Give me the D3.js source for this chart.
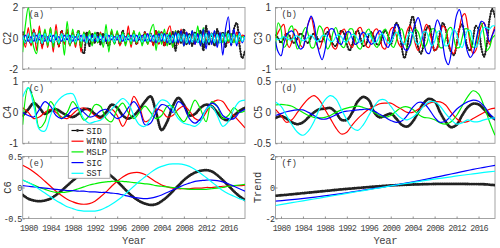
<!DOCTYPE html>
<html><head><meta charset="utf-8">
<script src="https://cdn.jsdelivr.net/npm/d3@7"></script>
<style>body{margin:0;background:#fff}svg{display:block}</style>
</head><body><svg id="c" width="500" height="248"></svg>
<script>
// ---------------- DATA ----------------
const seriesNames = ["SID","WIND","MSLP","SIC","SST"];
const seriesColors = ["#000000","#ff0000","#00f000","#0000ff","#00ffff"];
const yearTicks = [1980,1984,1988,1992,1996,2000,2004,2008,2012,2016];
const startYear = 1979;

// C2 (half-year samples 1979.0 ... 2019.0)
const c2Step = 0.5;
const c2SID  = [0.4,-0.3,0.2,-0.4,0.5,-0.3,0.4,-0.5,0.3,-0.2,0.3,-0.4,0.2,-0.5,0.5,-0.3,0.4,-0.4,0.3,-0.3,0.5,-0.6,-1.0,0.4,-0.5,0.3,-0.3,0.4,-0.4,0.3,-0.2,-0.5,0.4,-0.3,0.3,-0.4,0.5,-0.3,0.3,-0.2,0.3,-0.4,0.2,-0.3,0.4,-0.3,0.3,-0.4,0.5,-0.3,0.4,-0.5,0.3,-0.4,0.4,-0.8,0.5,-0.3,0.6,-0.4,0.3,-0.5,0.4,-0.3,0.5,-0.8,0.8,-0.4,0.3,-0.5,0.6,-0.3,0.4,-0.6,0.5,-0.4,0.6,1.0,-0.4,-1.3,-0.8];
const c2WIND = [0.3,-0.6,0.7,-0.5,0.6,-0.8,0.8,-0.7,0.5,-0.6,0.7,-0.9,0.9,-0.6,0.5,-0.4,0.6,-0.5,0.4,-0.6,0.5,-0.9,0.4,-0.3,0.5,-0.4,0.3,-0.3,0.4,-0.3,0.3,-0.4,0.5,-0.3,0.4,-0.5,0.3,-0.4,0.8,-0.6,0.5,-0.4,0.3,-0.3,0.4,-0.4,0.3,-0.5,0.5,-0.4,0.4,-0.5,0.4,0.8,-0.6,0.5,-0.4,0.6,-0.5,0.4,-0.3,0.3,-0.4,0.3,-0.3,0.4,-0.2,0.3,-0.3,0.2,-0.3,0.3,-0.2,0.2,-0.3,0.3,-0.2,0.4,-0.3,0.2,0.1];
const c2MSLP = [-0.9,0.9,2.0,0.6,-0.6,-1.0,0.5,-0.3,0.6,-0.5,0.7,-0.6,0.5,-0.4,0.3,-1.1,1.1,-0.5,0.6,-0.4,0.5,-0.6,0.4,-0.3,0.5,-0.5,0.4,-0.3,0.3,-0.6,0.9,-0.9,0.6,-0.4,0.5,-0.3,0.4,-0.5,0.3,-0.4,0.5,-0.3,0.4,-0.5,0.3,-0.4,0.5,0.9,-0.8,0.5,-0.4,0.6,-0.5,0.4,-0.6,0.5,-0.3,0.4,-0.5,0.3,-0.4,0.5,-0.3,0.8,-0.5,0.7,-0.4,0.3,-0.3,0.4,-0.4,0.3,-0.3,0.4,-0.2,0.3,-0.3,0.2,-0.2,0.1,0.0];
const c2SIC  = [-0.1,0.2,-0.2,0.1,-0.2,0.2,-0.1,0.2,-0.2,0.1,-0.2,0.2,-0.1,0.1,-0.2,0.2,-0.1,0.2,-0.2,0.1,-0.1,0.2,-0.2,0.1,-0.1,0.2,-0.2,0.1,-0.1,0.1,-0.2,0.2,-0.1,0.1,-0.1,0.2,-0.2,0.1,-0.1,0.2,-0.2,0.2,-0.1,0.2,-0.2,0.3,-0.2,0.2,-0.3,0.3,-0.2,0.3,-0.3,0.2,-0.3,0.4,-0.3,0.5,-0.5,0.4,-0.4,0.5,-0.4,0.3,-0.5,0.6,-0.7,0.5,-0.4,0.5,-0.6,0.4,-1.1,0.6,1.4,-0.5,0.6,-0.5,0.4,-0.3,0.2];
const c2SST  = [0.2,-0.3,0.3,-0.3,0.35,-0.3,0.3,-0.35,0.3,-0.25,0.3,-0.3,0.25,-0.3,0.3,-0.2,0.25,-0.3,0.2,-0.25,0.3,-0.2,0.25,-0.3,0.2,-0.2,0.25,-0.2,0.2,-0.25,0.3,-0.2,0.2,-0.25,0.2,-0.2,0.25,-0.2,0.2,-0.2,0.25,-0.2,0.2,-0.25,0.2,-0.2,0.25,-0.2,0.2,-0.25,0.3,-0.2,0.25,-0.3,0.2,-0.25,0.3,-0.2,0.25,-0.3,0.2,-0.25,0.3,-0.3,0.25,-0.3,0.3,-0.25,0.3,-0.3,0.25,-0.3,0.3,-0.25,0.3,-0.3,0.25,-0.3,0.3,-0.2,0.1];

// C3 (half-year samples)
const c3Step = 0.5;
const c3SID  = [0.1,0.0,-0.15,0.0,0.15,0.1,-0.1,-0.15,0.0,0.15,0.1,-0.1,-0.15,0.05,0.15,0.05,-0.1,-0.1,0.1,0.2,0.05,-0.2,-0.25,0.0,0.25,0.15,-0.2,-0.4,-0.2,0.15,0.25,0.0,-0.25,-0.2,0.1,0.2,0.0,-0.2,-0.2,0.1,0.25,0.1,-0.2,0.1,0.5,0.35,-0.3,-0.65,-0.3,0.4,0.72,0.3,-0.3,-0.5,-0.2,0.3,0.4,0.0,-0.4,-0.3,0.2,0.5,0.3,-0.2,-0.45,-0.55,-0.2,0.3,0.45,0.1,-0.3,-0.4,0.0,0.4,0.3,-0.3,-0.6,-0.2,0.6,0.95,0.7];
const c3WIND = [0.0,0.2,0.35,0.45,-0.1,-0.3,-0.1,0.3,0.2,-0.2,-0.3,0.1,0.5,0.67,0.3,-0.2,-0.35,-0.1,0.3,0.35,0.0,-0.3,-0.35,-0.1,0.2,0.3,0.1,-0.2,-0.3,0.0,0.3,0.35,0.1,-0.25,-0.3,-0.05,0.25,0.3,0.05,-0.3,-0.35,0.0,0.3,0.35,0.1,-0.2,-0.3,-0.1,0.25,0.4,0.2,-0.2,-0.4,-0.2,0.2,0.45,0.3,-0.1,-0.4,-0.3,0.1,0.4,0.3,-0.1,-0.4,-0.5,-0.2,0.3,0.7,0.8,0.4,-0.2,-0.5,-0.4,0.0,0.4,0.5,0.2,-0.2,0.1,0.4];
const c3MSLP = [-0.4,0.5,0.3,-0.3,-0.2,0.3,0.4,0.0,-0.35,-0.2,0.2,0.35,0.1,-0.3,-0.3,0.1,0.4,0.3,-0.1,-0.35,-0.2,0.2,0.35,0.1,-0.25,-0.3,0.0,0.3,0.3,0.0,-0.3,-0.35,-0.1,0.2,0.3,0.1,-0.2,-0.3,-0.1,0.2,0.3,0.1,-0.2,-0.3,-0.1,0.25,0.3,0.0,-0.3,-0.25,0.1,0.3,0.2,-0.1,-0.3,-0.2,0.1,0.3,0.3,0.0,-0.3,-0.3,0.0,0.3,0.35,0.0,-0.3,-0.3,0.0,0.3,0.3,0.0,-0.3,-0.2,0.3,0.5,0.1,-0.4,-0.3,0.0,0.1];
const c3SIC  = [-0.1,-0.45,-0.57,-0.2,0.1,0.2,0.24,0.1,-0.2,-0.35,-0.3,0.1,0.5,0.72,0.5,-0.1,-0.5,-0.7,-0.4,0.1,0.3,0.3,0.1,-0.15,-0.2,0.0,0.2,0.2,0.0,-0.2,-0.15,0.1,0.2,0.1,-0.1,-0.2,-0.1,0.15,0.25,0.1,-0.2,-0.3,-0.1,0.3,0.45,0.3,-0.1,-0.35,-0.4,-0.2,0.2,0.5,0.67,0.4,-0.1,-0.45,-0.5,-0.2,0.3,0.6,0.4,-0.2,-0.7,-0.86,-0.5,0.2,0.75,0.93,0.6,0.0,-0.45,-0.62,-0.5,-0.1,0.3,0.55,0.5,0.2,-0.1,0.1,0.3];
const c3SST  = [0.0,-0.05,0.0,0.05,0.0,-0.05,-0.05,0.05,0.08,0.0,-0.08,-0.05,0.05,0.1,0.0,-0.1,-0.05,0.08,0.1,0.0,-0.1,-0.1,0.05,0.12,0.05,-0.1,-0.12,0.0,0.12,0.1,-0.05,-0.15,-0.05,0.1,0.15,0.0,-0.15,-0.1,0.1,0.15,0.0,-0.15,-0.15,0.05,0.2,0.1,-0.1,-0.2,0.0,0.2,0.15,-0.1,-0.2,-0.05,0.2,0.2,-0.05,-0.25,-0.1,0.2,0.25,0.0,-0.25,-0.2,0.1,0.3,0.15,-0.2,-0.3,-0.05,0.25,0.25,-0.1,-0.3,-0.15,0.2,0.35,0.35,0.3,0.4,0.4];

// C4 (yearly samples 1979 ... 2019)
const c4Step = 1;
const c4SID  = [-0.1,0.1,0.3,0.15,-0.05,0.05,0.1,0.0,-0.1,-0.15,-0.05,0.1,0.1,-0.05,-0.15,0.0,0.25,0.15,-0.1,-0.2,-0.1,0.1,0.35,0.52,0.0,-0.57,-0.3,0.2,0.47,0.25,-0.1,-0.05,0.15,0.25,0.2,0.0,-0.2,-0.25,-0.1,0.05,0.15];
const c4WIND = [0.15,0.0,-0.2,-0.15,0.0,0.1,0.0,-0.15,-0.2,-0.05,0.1,0.15,0.05,-0.1,-0.2,-0.1,0.1,-0.1,-0.45,-0.1,0.52,0.2,-0.3,-0.2,0.1,0.05,-0.15,-0.1,0.1,0.2,0.05,-0.2,-0.25,0.0,0.3,0.4,0.35,0.1,-0.1,-0.3,-0.5];
const c4MSLP = [-0.4,0.8,0.4,-0.5,-0.3,0.35,0.1,-0.2,0.0,0.35,0.1,-0.25,-0.1,0.25,0.2,-0.2,-0.3,0.1,0.3,0.0,-0.2,0.0,0.2,0.0,-0.2,-0.1,0.2,0.2,-0.1,-0.3,0.0,0.4,0.1,-0.3,0.35,0.2,-0.2,-0.1,0.15,0.0,0.05];
const c4SIC  = [0.0,-0.1,-0.15,0.1,0.35,0.2,-0.1,-0.2,-0.1,0.1,0.15,0.0,-0.15,-0.1,0.05,0.1,-0.05,-0.2,-0.1,0.15,0.35,0.1,-0.4,-0.35,0.0,0.25,0.2,0.0,0.35,0.2,-0.2,-0.35,-0.2,0.1,0.3,0.2,-0.1,-0.2,-0.2,0.0,0.1];
const c4SST  = [0.5,0.8,0.2,-0.55,-0.6,-0.1,0.3,0.5,0.6,0.6,0.2,-0.2,-0.35,-0.3,-0.25,-0.1,0.1,0.3,0.45,0.3,-0.1,-0.4,-0.45,-0.2,0.2,0.4,0.35,0.1,-0.2,-0.35,-0.4,-0.45,-0.3,0.1,0.2,-0.1,-0.45,-0.3,0.1,0.35,0.4];

// C5 (yearly samples)
const c5Step = 1;
const c5SID  = [-0.09,-0.06,-0.1,-0.16,-0.19,-0.16,-0.08,0.0,0.05,0.06,0.07,0.0,-0.12,-0.12,0.0,0.18,0.25,0.2,0.0,-0.08,-0.05,-0.02,-0.1,-0.2,-0.23,-0.15,0.0,0.15,0.22,0.18,0.0,-0.15,-0.24,-0.2,-0.05,0.08,0.14,0.13,0.05,-0.05,-0.11];
const c5WIND = [0.05,-0.05,-0.16,-0.12,0.0,0.12,0.22,0.27,0.2,0.05,-0.1,-0.25,-0.35,-0.32,-0.2,-0.1,-0.02,0.05,0.1,0.14,0.15,0.15,0.1,0.05,0.0,0.0,0.05,0.1,0.15,0.17,0.17,0.12,0.0,-0.1,-0.16,-0.15,-0.1,-0.05,0.0,0.05,0.07];
const c5MSLP = [0.12,0.13,0.12,0.1,0.05,0.0,-0.05,-0.08,-0.09,-0.08,-0.05,0.0,0.04,0.07,0.09,0.1,0.08,0.05,0.0,-0.05,-0.08,-0.05,0.02,0.08,0.09,0.05,-0.03,-0.08,-0.09,-0.12,-0.17,-0.19,-0.15,-0.05,0.1,0.25,0.35,0.3,0.1,-0.15,-0.37];
const c5SIC  = [-0.05,-0.02,0.01,0.03,0.04,0.04,0.0,-0.05,-0.1,-0.11,-0.08,-0.04,0.0,0.02,0.03,0.04,0.05,0.05,0.02,-0.03,-0.08,-0.13,-0.16,-0.14,-0.05,0.08,0.16,0.15,0.05,-0.08,-0.16,-0.14,-0.05,0.05,0.12,0.17,0.2,0.18,0.1,-0.02,-0.11];
const c5SST  = [0.17,0.1,-0.05,-0.2,-0.32,-0.37,-0.3,-0.15,0.05,0.2,0.27,0.22,0.05,-0.12,-0.25,-0.29,-0.2,-0.05,0.1,0.2,0.2,0.1,-0.02,-0.1,-0.12,-0.08,0.0,0.1,0.17,0.17,0.1,-0.02,-0.12,-0.19,-0.17,-0.12,-0.15,-0.15,-0.12,-0.1,-0.09];

// C6 (yearly samples)
const c6Step = 1;
const c6SID  = [-0.12,-0.18,-0.21,-0.22,-0.21,-0.18,-0.12,-0.05,0.03,0.11,0.18,0.24,0.28,0.3,0.29,0.25,0.18,0.1,0.01,-0.08,-0.16,-0.22,-0.26,-0.28,-0.27,-0.22,-0.15,-0.06,0.03,0.12,0.19,0.24,0.27,0.28,0.26,0.2,0.12,0.03,-0.06,-0.14,-0.2];
const c6WIND = [0.36,0.31,0.25,0.18,0.1,0.02,-0.06,-0.13,-0.19,-0.23,-0.26,-0.27,-0.26,-0.22,-0.15,-0.07,0.02,0.1,0.17,0.22,0.24,0.24,0.21,0.15,0.09,0.04,0.01,-0.01,-0.02,-0.02,-0.02,-0.01,-0.01,0.0,0.0,0.01,0.02,0.02,0.03,0.03,0.04];
const c6MSLP = [0.12,0.08,0.04,0.0,-0.03,-0.06,-0.08,-0.08,-0.07,-0.05,-0.02,0.01,0.04,0.06,0.08,0.09,0.1,0.1,0.1,0.09,0.08,0.07,0.06,0.05,0.03,0.02,0.01,0.0,-0.01,-0.02,-0.03,-0.03,-0.03,-0.03,-0.02,-0.01,0.0,0.02,0.03,0.04,0.05];
const c6SIC  = [0.03,0.02,0.01,0.0,-0.01,-0.02,-0.03,-0.04,-0.05,-0.05,-0.06,-0.06,-0.07,-0.07,-0.08,-0.08,-0.09,-0.1,-0.12,-0.14,-0.16,-0.17,-0.18,-0.17,-0.15,-0.12,-0.08,-0.04,0.0,0.04,0.07,0.1,0.11,0.12,0.12,0.11,0.09,0.06,0.02,-0.02,-0.06];
const c6SST  = [0.12,0.08,0.03,-0.03,-0.09,-0.15,-0.21,-0.26,-0.31,-0.34,-0.37,-0.38,-0.38,-0.38,-0.36,-0.32,-0.27,-0.21,-0.14,-0.06,0.02,0.1,0.17,0.24,0.3,0.34,0.37,0.38,0.38,0.37,0.34,0.29,0.23,0.16,0.09,0.02,-0.05,-0.1,-0.14,-0.18,-0.21];

// Trend (two-year samples 1979 ... 2019)
const trendStep = 2;
const trendSID = [-0.53,-0.47,-0.4,-0.33,-0.26,-0.19,-0.12,-0.06,0.0,0.06,0.11,0.15,0.18,0.2,0.22,0.23,0.23,0.23,0.22,0.21,0.15];
const trendSIC = [-0.88,-0.82,-0.75,-0.67,-0.58,-0.49,-0.39,-0.28,-0.17,-0.06,0.05,0.17,0.3,0.43,0.57,0.72,0.87,1.02,1.17,1.3,1.43];
const trendSST = [-1.16,-1.04,-0.92,-0.8,-0.68,-0.56,-0.44,-0.32,-0.2,-0.08,0.04,0.16,0.27,0.38,0.49,0.59,0.69,0.79,0.88,0.97,1.05];

// ---------------- LAYOUT ----------------
const svg = d3.select("#c");
const cols = [[22.7,245],[275.5,495]];
const rows = [[7.5,69],[81.5,143.3],[156.5,218.5]];
const SANS = "'Liberation Sans', Arial, sans-serif";
const MONO = "'Liberation Mono', 'Courier New', monospace";

const panels = [
  {tag:"(a)", ylab:"C2", col:0,row:0, dom:[-2,2], ticks:[-2,0,2], step:c2Step, series:[c2SID,c2WIND,c2MSLP,c2SIC,c2SST], mono:false, yoff:12},
  {tag:"(b)", ylab:"C3", col:1,row:0, dom:[-1,1], ticks:[-1,0,1], step:c3Step, series:[c3SID,c3WIND,c3MSLP,c3SIC,c3SST], mono:false, yoff:13.5},
  {tag:"(c)", ylab:"C4", col:0,row:1, dom:[-1,1], ticks:[-1,0,1], step:c4Step, series:[c4SID,c4WIND,c4MSLP,c4SIC,c4SST], mono:false, yoff:12},
  {tag:"(d)", ylab:"C5", col:1,row:1, dom:[-0.5,0.5], ticks:[-0.5,0,0.5], step:c5Step, series:[c5SID,c5WIND,c5MSLP,c5SIC,c5SST], mono:false, yoff:13.5},
  {tag:"(e)", ylab:"C6", col:0,row:2, dom:[-0.5,0.5], ticks:[-0.5,0,0.5], step:c6Step, series:[c6SID,c6WIND,c6MSLP,c6SIC,c6SST], mono:true, xlab:true, yoff:11.5},
  {tag:"(f)", ylab:"Trend", col:1,row:2, dom:[-2,2], ticks:[-2,0,2], step:trendStep, series:[trendSID,null,null,trendSIC,trendSST], mono:true, xlab:true, yoff:15}
];

panels.forEach((p,pi)=>{
  const [x0,x1] = cols[p.col], [y0,y1] = rows[p.row];
  const x = d3.scaleLinear().domain([startYear,2019]).range([x0,x1]);
  const y = d3.scaleLinear().domain(p.dom).range([y1,y0]);
  const g = svg.append("g");
  const cid = "clip"+pi;
  svg.append("clipPath").attr("id",cid).append("rect").attr("x",x0).attr("y",y0).attr("width",x1-x0).attr("height",y1-y0);

  // frame
  g.append("rect").attr("x",x0).attr("y",y0).attr("width",x1-x0).attr("height",y1-y0)
    .attr("fill","#fff").attr("stroke","#9a9a9a").attr("stroke-width",0.9);

  // axes (ticks inside)
  const font = p.mono ? MONO : SANS;
  const ax = g.append("g").attr("transform",`translate(0,${y1})`)
    .call(d3.axisBottom(x).tickValues(yearTicks).tickSize(-2).tickFormat(p.xlab? d3.format("d") : ""));
  const axT = g.append("g").attr("transform",`translate(0,${y0})`)
    .call(d3.axisTop(x).tickValues(yearTicks).tickSize(-2).tickFormat(""));
  const ay = g.append("g").attr("transform",`translate(${x0},0)`)
    .call(d3.axisLeft(y).tickValues(p.ticks).tickSize(-2).tickFormat(d=>String(d)));
  [ax,axT,ay].forEach(a=>{
    a.select(".domain").remove();
    a.selectAll(".tick line").attr("stroke","#777").attr("stroke-width",0.8);
  });
  if (p.mono) {
    ay.selectAll("text").attr("x",-1).attr("font-family",MONO).attr("font-size",8.5)
      .attr("letter-spacing",-0.6).attr("fill","#333");
  } else {
    ay.selectAll("text").attr("x",-4.5).attr("font-family",SANS).attr("font-size",10).attr("fill","#333");
  }
  ax.selectAll("text").attr("y",6).attr("font-family",MONO).attr("font-size",8.5)
    .attr("letter-spacing",-0.7).attr("fill","#444");

  // y label
  g.append("text").attr("transform",`translate(${x0-p.yoff},${(y0+y1)/2}) rotate(-90)`)
    .attr("text-anchor","middle").attr("font-family",font).attr("font-size",p.mono?10.5:10).attr("fill","#333").text(p.ylab);
  if (p.xlab) {
    g.append("text").attr("x",(x0+x1)/2).attr("y",244).attr("text-anchor","middle")
      .attr("font-family",MONO).attr("font-size",10.5).attr("letter-spacing",-0.4).attr("fill","#444").text("Year");
  }

  // lines
  const lines = g.append("g").attr("clip-path",`url(#${cid})`);
  const line = d3.line().x((d,i)=>x(startYear+i*p.step)).y(d=>y(d)).curve(d3.curveCatmullRom.alpha(0.5));
  p.series.forEach((s,si)=>{
    if(!s) return;
    if(si===0){
      lines.append("path").attr("d",line(s)).attr("fill","none").attr("stroke","#000").attr("stroke-width",1);
      lines.append("path").attr("d",line(s)).attr("fill","none").attr("stroke","#222")
        .attr("stroke-width",p.row===0?2.2:2.8).attr("stroke-linecap","round")
        .attr("stroke-dasharray",p.row===0?"0.1,2.6":"0.1,1.7");
    } else {
      lines.append("path").attr("d",line(s)).attr("fill","none").attr("stroke",seriesColors[si]).attr("stroke-width",1.2);
    }
  });

  // panel tag
  g.append("text").attr("x",x0+6).attr("y",y0+9.5).attr("font-family",MONO).attr("font-size",8.5).attr("fill","#333").text(p.tag);
});

// legend
const lg = svg.append("g");
lg.append("rect").attr("x",68.3).attr("y",124.3).attr("width",41.7).attr("height",54)
  .attr("fill","#fff").attr("stroke","#9a9a9a").attr("stroke-width",0.9);
seriesNames.forEach((n,i)=>{
  const yy = 130.5 + i*10.7;
  lg.append("line").attr("x1",71.5).attr("x2",83.5).attr("y1",yy).attr("y2",yy)
    .attr("stroke",seriesColors[i]).attr("stroke-width",1.2);
  if(i===0) lg.append("circle").attr("cx",77.5).attr("cy",yy).attr("r",1.4).attr("fill","#333");
  lg.append("text").attr("x",86.5).attr("y",yy+3).attr("font-family",MONO).attr("font-size",8.5).attr("fill","#222").text(n);
});
</script></body></html>
